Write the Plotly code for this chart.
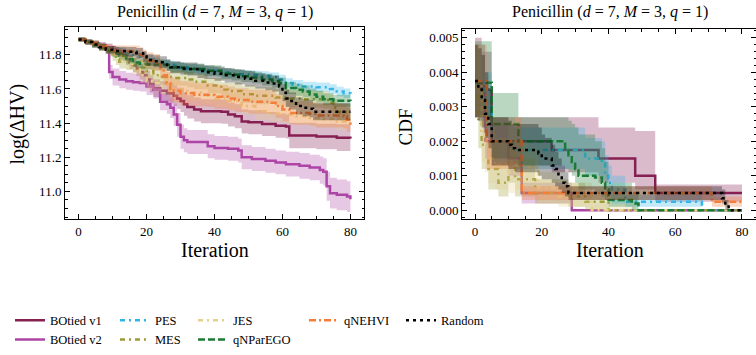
import plotly.graph_objects as go

FONT = "Liberation Serif, DejaVu Serif, serif"
W, H = 756, 355

NAMES = ["BOtied v1", "BOtied v2", "PES", "MES", "JES", "qNParEGO", "qNEHVI", "Random"]
COLORS = ["#861F52", "#AD45A6", "#33B5E8", "#9E9A34", "#E5D18D", "#1B7A35", "#F47F3A", "#000000"]
DASHES = ["solid", "solid", "5px,4px,2px,4px", "5px,4px,2px,4px", "5px,4px,2px,4px",
          "7px,3px", "7px,3px,2px,3px", "3px,4px"]
LEGEND_IDS = ["legend", "legend", "legend2", "legend2", "legend3", "legend3", "legend4", "legend5"]

# ---------------- Left panel: log(ΔHV) (mean and std) ----------------
L_V1_X = [0, 2, 4, 6, 8, 10, 11, 12, 13, 14, 15, 16, 17, 18, 19, 20, 21, 22, 24, 26, 28, 29, 30, 31, 32,
          34, 36, 42, 44, 46, 48, 50, 54, 58, 61, 62, 70, 76, 80]
L_V1_Y = [11.89, 11.875, 11.865, 11.855, 11.845, 11.83, 11.82, 11.81, 11.795, 11.775, 11.755, 11.74, 11.72,
          11.70, 11.68, 11.655, 11.63, 11.605, 11.59, 11.575, 11.56, 11.545, 11.53, 11.51, 11.495, 11.48,
          11.47, 11.467, 11.45, 11.44, 11.41, 11.405, 11.395, 11.385, 11.38, 11.328, 11.322, 11.315, 11.31]
L_V1_S = [0.012, 0.015, 0.018, 0.02, 0.022, 0.025, 0.028, 0.03, 0.032, 0.035, 0.038, 0.04, 0.042, 0.045,
          0.048, 0.05, 0.05, 0.052, 0.055, 0.058, 0.06, 0.062, 0.064, 0.066, 0.068, 0.07, 0.07, 0.07, 0.07,
          0.07, 0.07, 0.07, 0.07, 0.07, 0.07, 0.075, 0.075, 0.078, 0.078]

L_V2_X = [0, 2, 4, 6, 8, 9, 10, 12, 14, 16, 18, 20, 22, 24, 26, 27, 28, 29, 30, 31, 32, 38, 40, 44, 47,
          48, 51, 55, 58, 61, 65, 68, 71, 72, 73, 74, 76, 79, 80]
L_V2_Y = [11.89, 11.875, 11.865, 11.85, 11.84, 11.70, 11.67, 11.655, 11.645, 11.64, 11.635, 11.615, 11.595,
          11.525, 11.51, 11.49, 11.45, 11.39, 11.32, 11.30, 11.29, 11.265, 11.255, 11.25, 11.24, 11.20,
          11.19, 11.18, 11.17, 11.16, 11.15, 11.14, 11.125, 11.115, 11.03, 10.99, 10.98, 10.97, 10.955]
L_V2_S = [0.012, 0.015, 0.018, 0.02, 0.022, 0.04, 0.05, 0.05, 0.05, 0.05, 0.05, 0.05, 0.05, 0.05, 0.055,
          0.06, 0.065, 0.07, 0.07, 0.07, 0.07, 0.07, 0.07, 0.07, 0.07, 0.07, 0.07, 0.07, 0.07, 0.072, 0.075,
          0.075, 0.08, 0.08, 0.085, 0.09, 0.09, 0.09, 0.09]

L_PES_X = [0, 2, 4, 6, 8, 10, 12, 14, 16, 18, 20, 22, 24, 26, 28, 30, 32, 35, 38, 41, 44, 47, 50, 53, 56,
           59, 61, 63, 66, 70, 74, 76, 78, 80]
L_PES_Y = [11.89, 11.875, 11.865, 11.85, 11.835, 11.825, 11.82, 11.81, 11.80, 11.79, 11.775, 11.76, 11.75,
           11.742, 11.735, 11.727, 11.72, 11.712, 11.705, 11.697, 11.69, 11.687, 11.683, 11.678, 11.67,
           11.655, 11.635, 11.625, 11.615, 11.61, 11.60, 11.585, 11.575, 11.57]
L_PES_S = [0.012, 0.015, 0.017, 0.019, 0.02, 0.021, 0.022, 0.023, 0.024, 0.025, 0.025, 0.025, 0.025, 0.025,
           0.025, 0.025, 0.025, 0.025, 0.025, 0.025, 0.025, 0.025, 0.025, 0.026, 0.027, 0.028, 0.028, 0.028,
           0.028, 0.028, 0.028, 0.028, 0.028, 0.028]

L_MES_X = [0, 2, 4, 6, 8, 9, 10, 11, 12, 14, 16, 18, 20, 22, 24, 28, 32, 34, 38, 42, 44, 48, 52, 58, 62,
           66, 72, 74, 75, 76, 80]
L_MES_Y = [11.89, 11.875, 11.86, 11.845, 11.83, 11.815, 11.795, 11.775, 11.76, 11.752, 11.74, 11.725,
           11.705, 11.68, 11.67, 11.665, 11.655, 11.643, 11.62, 11.595, 11.588, 11.57, 11.56, 11.55, 11.545,
           11.54, 11.535, 11.52, 11.49, 11.465, 11.46]
L_MES_S = [0.012, 0.015, 0.017, 0.02, 0.022, 0.025, 0.03, 0.035, 0.04, 0.04, 0.045, 0.045, 0.045, 0.045,
           0.045, 0.045, 0.045, 0.045, 0.045, 0.045, 0.05, 0.05, 0.05, 0.05, 0.05, 0.05, 0.05, 0.05, 0.05,
           0.05, 0.05]

L_JES_X = [0, 2, 4, 6, 8, 10, 12, 14, 16, 18, 20, 22, 24, 28, 32, 36, 40, 44, 48, 52, 56, 60, 64, 68, 72,
           76, 80]
L_JES_Y = [11.89, 11.875, 11.86, 11.845, 11.83, 11.81, 11.78, 11.75, 11.72, 11.68, 11.645, 11.635, 11.62,
           11.60, 11.58, 11.565, 11.545, 11.53, 11.50, 11.47, 11.457, 11.45, 11.44, 11.43, 11.425, 11.41,
           11.40]
L_JES_S = [0.012, 0.015, 0.017, 0.02, 0.022, 0.025, 0.03, 0.035, 0.04, 0.045, 0.05, 0.05, 0.05, 0.05,
           0.05, 0.05, 0.05, 0.05, 0.05, 0.05, 0.05, 0.05, 0.05, 0.05, 0.05, 0.05, 0.05]

L_PARE_X = [0, 2, 4, 6, 8, 10, 12, 14, 16, 18, 20, 24, 27, 31, 37, 42, 45, 48, 51, 54, 57, 59, 61, 64, 66,
            68, 70, 72, 75, 80]
L_PARE_Y = [11.89, 11.875, 11.86, 11.845, 11.825, 11.81, 11.795, 11.775, 11.755, 11.748, 11.744, 11.74,
            11.726, 11.717, 11.707, 11.69, 11.683, 11.675, 11.667, 11.655, 11.645, 11.633, 11.606, 11.596,
            11.585, 11.568, 11.555, 11.54, 11.531, 11.53]
L_PARE_S = [0.012, 0.015, 0.017, 0.019, 0.02, 0.022, 0.024, 0.026, 0.028, 0.03, 0.03, 0.03, 0.03, 0.032,
            0.032, 0.033, 0.033, 0.034, 0.034, 0.035, 0.035, 0.035, 0.035, 0.035, 0.035, 0.035, 0.035, 0.035,
            0.035, 0.035]

L_NEHVI_X = [0, 2, 4, 6, 8, 10, 12, 16, 18, 19, 20, 22, 24, 25, 26, 27, 28, 30, 34, 38, 40, 44, 46, 50,
             56, 58, 60, 62, 68, 70, 78, 79, 80]
L_NEHVI_Y = [11.89, 11.875, 11.87, 11.85, 11.835, 11.825, 11.82, 11.815, 11.80, 11.78, 11.765, 11.755,
             11.72, 11.68, 11.635, 11.60, 11.59, 11.575, 11.567, 11.565, 11.555, 11.545, 11.535, 11.525,
             11.52, 11.50, 11.48, 11.46, 11.455, 11.445, 11.44, 11.42, 11.385]
L_NEHVI_S = [0.012, 0.015, 0.017, 0.02, 0.025, 0.03, 0.035, 0.04, 0.045, 0.05, 0.05, 0.05, 0.055, 0.06,
             0.065, 0.07, 0.07, 0.07, 0.07, 0.07, 0.07, 0.07, 0.07, 0.07, 0.07, 0.07, 0.07, 0.07, 0.07, 0.07,
             0.07, 0.07, 0.07]

L_RAND_X = [0, 2, 4, 6, 8, 11, 14, 17, 19, 20, 22, 24, 26, 27, 30, 32, 35, 37, 40, 43, 46, 49, 52, 55, 57,
            59, 60, 61, 62, 64, 66, 68, 69, 80]
L_RAND_Y = [11.89, 11.875, 11.86, 11.845, 11.83, 11.822, 11.818, 11.81, 11.79, 11.77, 11.762, 11.757,
            11.74, 11.727, 11.72, 11.717, 11.705, 11.698, 11.69, 11.68, 11.67, 11.66, 11.648, 11.638, 11.632,
            11.614, 11.578, 11.545, 11.53, 11.5, 11.49, 11.485, 11.467, 11.467]
L_RAND_S = [0.012, 0.015, 0.018, 0.02, 0.022, 0.025, 0.028, 0.03, 0.032, 0.034, 0.035, 0.035, 0.035, 0.035,
            0.035, 0.038, 0.04, 0.04, 0.042, 0.042, 0.044, 0.045, 0.045, 0.046, 0.046, 0.048, 0.05, 0.05,
            0.05, 0.05, 0.05, 0.05, 0.05, 0.05]

# ---------------- Right panel: CDF (mean, lower, upper) ----------------
R_V1_X = [0, 2, 5, 23, 37, 48, 54, 80]
R_V1_Y = [0.0037, 0.0035, 0.002, 0.00175, 0.0015, 0.001, 0.0005, 0.0005]
R_V1_LO = [0.0027, 0.0026, 0.0013, 0.0011, 0.0008, 0.0006, 0.00025, 0.00025]
R_V1_HI = [0.0050, 0.0046, 0.0027, 0.0027, 0.0024, 0.0023, 0.00075, 0.00075]

R_V2_X = [0, 3, 10, 14, 29, 80]
R_V2_Y = [0.0036, 0.002, 0.0015, 0.0005, 0.0, 0.0]
R_V2_LO = [0.0027, 0.0015, 0.001, 0.0002, 0.0, 0.0]
R_V2_HI = [0.0048, 0.0025, 0.002, 0.0008, 0.0, 0.0]

R_PES_X = [0, 3, 5, 12, 33, 38, 39, 40, 41, 45, 68, 80]
R_PES_Y = [0.0037, 0.0030, 0.002, 0.00175, 0.0015, 0.00138, 0.001, 0.0008, 0.0006, 0.00025, 0.0, 0.0]
R_PES_LO = [0.0027, 0.0022, 0.0014, 0.0012, 0.001, 0.0009, 0.0006, 0.0004, 0.0002, 0.0001, 0.0, 0.0]
R_PES_HI = [0.0048, 0.0040, 0.0027, 0.0024, 0.0021, 0.002, 0.0016, 0.0013, 0.001, 0.00045, 0.0, 0.0]

R_MES_X = [0, 1, 2, 4, 7, 10, 12, 18, 28, 33, 40, 80]
R_MES_Y = [0.0037, 0.0026, 0.0019, 0.0012, 0.0008, 0.0014, 0.0009, 0.0005, 0.0004, 0.00025, 0.0, 0.0]
R_MES_LO = [0.0027, 0.0018, 0.0012, 0.0006, 0.0004, 0.0008, 0.0004, 0.0002, 0.0001, 0.0, 0.0, 0.0]
R_MES_HI = [0.0048, 0.0036, 0.0028, 0.002, 0.0015, 0.002, 0.0015, 0.0009, 0.0008, 0.0005, 0.0, 0.0]

R_JES_X = [0, 2, 3, 4, 6, 10, 12, 16, 19, 25, 35, 48, 80]
R_JES_Y = [0.0037, 0.0023, 0.0019, 0.0015, 0.0013, 0.0011, 0.0013, 0.00125, 0.00065, 0.0004, 0.0, 0.0, 0.0]
R_JES_LO = [0.0027, 0.0014, 0.0011, 0.0008, 0.0006, 0.0005, 0.0006, 0.0005, 0.0002, 0.0001, 0.0, 0.0, 0.0]
R_JES_HI = [0.0048, 0.0033, 0.0028, 0.0024, 0.0021, 0.0018, 0.002, 0.0018, 0.0011, 0.0008, 0.0002, 0.0, 0.0]

R_PARE_X = [0, 5, 13, 27, 28, 29, 30, 31, 36, 38, 39, 40, 47, 49, 80]
R_PARE_Y = [0.0037, 0.0025, 0.002, 0.0018, 0.0016, 0.0014, 0.0012, 0.001, 0.00095, 0.0008, 0.0006, 0.0003,
            0.0002, 0.0, 0.0]
R_PARE_LO = [0.0027, 0.0015, 0.0013, 0.0012, 0.0011, 0.001, 0.0008, 0.0006, 0.0005, 0.0004, 0.0003, 0.0001,
             0.0, 0.0, 0.0]
R_PARE_HI = [0.0049, 0.0034, 0.0027, 0.0027, 0.0026, 0.0025, 0.0024, 0.0022, 0.002, 0.0018, 0.0014, 0.0008,
             0.0005, 0.0, 0.0]

R_NEHVI_X = [0, 3.5, 14, 71, 80]
R_NEHVI_Y = [0.00375, 0.002, 0.0005, 0.00025, 0.00025]
R_NEHVI_LO = [0.0027, 0.0012, 0.0003, 0.0001, 0.0001]
R_NEHVI_HI = [0.0048, 0.0027, 0.0007, 0.0004, 0.0004]

R_RAND_X = [0, 1, 2, 3, 4, 5, 10, 11, 12, 19, 20, 21, 23, 24, 25, 26, 27, 28, 74, 75, 76, 80]
R_RAND_Y = [0.00375, 0.0035, 0.0032, 0.0028, 0.0025, 0.002, 0.0019, 0.0018, 0.00175, 0.00165, 0.0015,
            0.0015, 0.0013, 0.0012, 0.001, 0.0008, 0.0007, 0.0005, 0.00035, 0.00015, 0.0, 0.0]
R_RAND_LO = [0.0027, 0.0026, 0.0024, 0.0021, 0.0018, 0.0013, 0.0012, 0.0012, 0.0011, 0.001, 0.0009, 0.0009,
             0.0008, 0.0007, 0.0006, 0.0005, 0.0004, 0.0003, 0.0002, 0.0, 0.0, 0.0]
R_RAND_HI = [0.0048, 0.0047, 0.0045, 0.0040, 0.0035, 0.0027, 0.0026, 0.0025, 0.0025, 0.0024, 0.0022, 0.0021,
             0.0019, 0.0017, 0.0015, 0.0013, 0.0011, 0.0007, 0.0006, 0.0003, 0.0, 0.0]

LEFT = [(L_V1_X, L_V1_Y, L_V1_S), (L_V2_X, L_V2_Y, L_V2_S), (L_PES_X, L_PES_Y, L_PES_S),
        (L_MES_X, L_MES_Y, L_MES_S), (L_JES_X, L_JES_Y, L_JES_S), (L_PARE_X, L_PARE_Y, L_PARE_S),
        (L_NEHVI_X, L_NEHVI_Y, L_NEHVI_S), (L_RAND_X, L_RAND_Y, L_RAND_S)]
RIGHT = [(R_V1_X, R_V1_Y, R_V1_LO, R_V1_HI), (R_V2_X, R_V2_Y, R_V2_LO, R_V2_HI),
         (R_PES_X, R_PES_Y, R_PES_LO, R_PES_HI), (R_MES_X, R_MES_Y, R_MES_LO, R_MES_HI),
         (R_JES_X, R_JES_Y, R_JES_LO, R_JES_HI), (R_PARE_X, R_PARE_Y, R_PARE_LO, R_PARE_HI),
         (R_NEHVI_X, R_NEHVI_Y, R_NEHVI_LO, R_NEHVI_HI), (R_RAND_X, R_RAND_Y, R_RAND_LO, R_RAND_HI)]

X_TICKS = [0, 20, 40, 60, 80]
TITLE = "Penicillin (<i>d</i> = 7, <i>M</i> = 3, <i>q</i> = 1)"


def rgba(hexc, a):
    h = hexc.lstrip("#")
    r, g, b = int(h[0:2], 16), int(h[2:4], 16), int(h[4:6], 16)
    return f"rgba({r},{g},{b},{a})"


fig = go.Figure()


def add_series(i, x, y, lo, hi, xa, ya, legend):
    c = COLORS[i]
    fig.add_trace(go.Scatter(x=x, y=lo, xaxis=xa, yaxis=ya, mode="lines",
                             line=dict(width=0, shape="hv", color=c), showlegend=False,
                             hoverinfo="skip"))
    fig.add_trace(go.Scatter(x=x, y=hi, xaxis=xa, yaxis=ya, mode="lines", fill="tonexty",
                             fillcolor=rgba(c, 0.3), line=dict(width=0, shape="hv", color=c),
                             showlegend=False, hoverinfo="skip"))
    fig.add_trace(go.Scatter(x=x, y=y, xaxis=xa, yaxis=ya, mode="lines", name=NAMES[i],
                             line=dict(width=2.5, shape="hv", color=c, dash=DASHES[i]),
                             showlegend=legend, legend=LEGEND_IDS[i]))


for i, (x, y, s) in enumerate(LEFT):
    lo = [m - d for m, d in zip(y, s)]
    hi = [m + d for m, d in zip(y, s)]
    add_series(i, x, y, lo, hi, "x", "y", True)

for i, (x, y, lo, hi) in enumerate(RIGHT):
    add_series(i, x, y, lo, hi, "x2", "y2", False)


def px_x(p):
    return p / W


def px_y(p):
    return 1 - p / H


tick_font = dict(family=FONT, size=13, color="black")
common = dict(showline=True, linecolor="black", linewidth=1, mirror="ticks", ticks="inside",
              ticklen=5, tickwidth=1, tickcolor="black", showgrid=False, zeroline=False,
              tickfont=tick_font)

fig.update_layout(
    width=W, height=H, margin=dict(l=0, r=0, t=0, b=0),
    paper_bgcolor="white", plot_bgcolor="white",
    font=dict(family=FONT, color="black"),
    xaxis=dict(domain=[px_x(65), px_x(364)], range=[-4, 84], tickvals=X_TICKS, anchor="y",
               minor=dict(ticks="inside", dtick=5, ticklen=2.5, tickcolor="black"), **common),
    yaxis=dict(domain=[px_y(232), px_y(29)], range=[10.839, 11.961], tick0=11.0, dtick=0.2,
               tickformat=".1f", anchor="x",
               minor=dict(ticks="inside", dtick=0.05, ticklen=2.5, tickcolor="black"), **common),
    xaxis2=dict(domain=[px_x(462), 1.0], range=[-3.9, 84.2], tickvals=X_TICKS, anchor="y2",
                minor=dict(ticks="inside", dtick=5, ticklen=2.5, tickcolor="black"), **common),
    yaxis2=dict(domain=[px_y(232), px_y(31)], range=[-0.00025, 0.00525], tick0=0, dtick=0.001,
                tickformat=".3f", anchor="x2",
                minor=dict(ticks="inside", dtick=0.0002, ticklen=2.5, tickcolor="black"), **common),
)

leg_common = dict(xanchor="left", yanchor="top", bgcolor="rgba(0,0,0,0)",
                  font=dict(family=FONT, size=12.5, color="black"), tracegroupgap=0,
                  itemwidth=30, orientation="v", traceorder="normal")
LEG_X = [10, 115, 193, 304, 401]
for k, lx in enumerate(LEG_X):
    key = "legend" if k == 0 else f"legend{k + 1}"
    fig.update_layout({key: dict(x=px_x(lx), y=px_y(324), **leg_common)})

ann = []
for cx in [214.5, 609.5]:
    ann.append(dict(text=TITLE, x=px_x(cx), y=px_y(13), xref="paper", yref="paper",
                    showarrow=False, xanchor="center", yanchor="middle",
                    font=dict(family=FONT, size=16, color="black")))
    ann.append(dict(text="Iteration", x=px_x(cx), y=px_y(265), xref="paper", yref="paper",
                    showarrow=False, xanchor="center", yanchor="middle",
                    font=dict(family=FONT, size=20, color="black")))
ann.append(dict(text="log(ΔHV)", x=px_x(18), y=px_y(132), xref="paper", yref="paper",
                showarrow=False, xanchor="center", yanchor="middle", textangle=-90,
                font=dict(family=FONT, size=20, color="black")))
ann.append(dict(text="CDF", x=px_x(405), y=px_y(135), xref="paper", yref="paper",
                showarrow=False, xanchor="center", yanchor="middle", textangle=-90,
                font=dict(family=FONT, size=19, color="black")))
fig.update_layout(annotations=ann)

fig.write_html("out.html", config={"displayModeBar": False},
               post_script="document.body.style.margin='0';document.body.style.padding='0';")
